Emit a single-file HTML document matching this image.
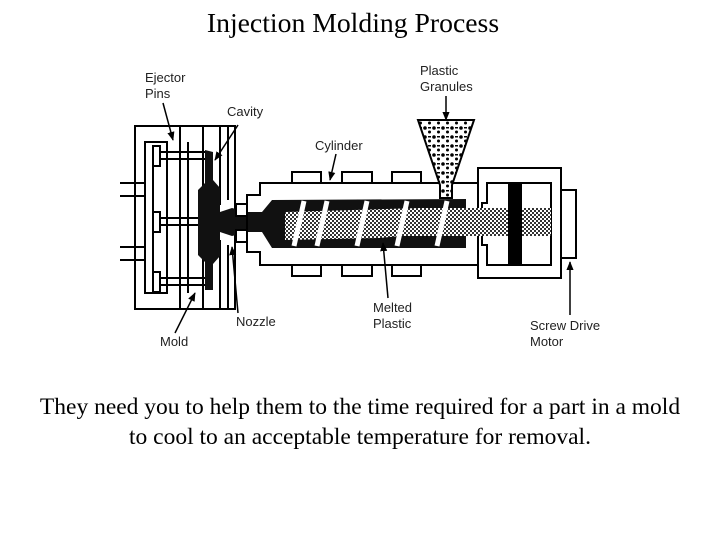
<!DOCTYPE html>
<html><head><style>
body{margin:0;background:#fff;width:720px;height:540px;overflow:hidden;position:relative}
.t{position:absolute;font-family:"Liberation Serif",serif;color:#000;text-align:center;width:720px}
</style></head><body>
<div class="t" style="top:7px;left:-7px;font-size:27.7px">Injection Molding Process</div>
<div class="t" style="top:392px;left:0;font-size:23.5px;line-height:30px">They need you to help them to the time required for a part in a mold<br>to cool to an acceptable temperature for removal.</div>
<svg width="720" height="540" style="position:absolute;left:0;top:0" xmlns="http://www.w3.org/2000/svg">
<defs>
<pattern id="d" width="4" height="4" patternUnits="userSpaceOnUse"><rect width="4" height="4" fill="#fff"/><rect width="2" height="2" fill="#333"/><rect x="2" y="2" width="2" height="2" fill="#333"/></pattern>
<pattern id="g" width="9" height="9" patternUnits="userSpaceOnUse"><rect width="9" height="9" fill="#fff"/><circle cx="2" cy="2" r="1.8" fill="#000"/><circle cx="6.5" cy="6" r="1.5" fill="#000"/><rect x="5" y="1" width="3" height="1.5" fill="#000"/></pattern>
<marker id="a" viewBox="0 0 10 10" refX="9" refY="5" markerWidth="6" markerHeight="6" orient="auto"><path d="M0 1L10 5L0 9Z" fill="#000"/></marker>
</defs>
<g stroke="#000" stroke-width="2" fill="none">
<rect x="135" y="126" width="100" height="183"/>
<path d="M168 142H145V293H168"/>
<line x1="153" y1="148" x2="153" y2="287"/>
<line x1="167" y1="142" x2="167" y2="293"/>
<line x1="180" y1="126" x2="180" y2="309"/>
<line x1="188" y1="142" x2="188" y2="293"/>
<line x1="203" y1="126" x2="203" y2="309"/>
<line x1="220" y1="126" x2="220" y2="205"/>
<line x1="220" y1="240" x2="220" y2="309"/>
<line x1="228" y1="126" x2="228" y2="200"/>
<line x1="228" y1="245" x2="228" y2="309"/>
<path d="M120 183H145M120 196H145M120 247H145M120 260H145"/>
<rect x="153" y="146" width="7" height="20" fill="#fff"/>
<rect x="153" y="212" width="7" height="20" fill="#fff"/>
<rect x="153" y="272" width="7" height="20" fill="#fff"/>
<path d="M160 152H205M160 159H205M160 218H205M160 225H205M160 278H205M160 285H205" />
</g>
<path d="M205 150L213 152L213 180L220 188L220 212L232 208L247 212L247 232L232 236L220 232L220 256L213 264L213 290L205 290L205 262L198 255L198 190L205 183Z" fill="#111"/>
<path d="M220 212L262 212L272 200L466 199L466 248L272 248L262 232L220 232Z" fill="#111"/>
<g stroke="#000" stroke-width="2" fill="none">
<rect x="236" y="204" width="11" height="12" fill="#fff"/>
<rect x="236" y="230" width="11" height="12" fill="#fff"/>
<path d="M440 183H260V195H247V252H260V265H478V183H452"/>
<rect x="292" y="172" width="29" height="11"/><rect x="342" y="172" width="30" height="11"/><rect x="392" y="172" width="29" height="11"/>
<rect x="292" y="265" width="29" height="11"/><rect x="342" y="265" width="30" height="11"/><rect x="392" y="265" width="29" height="11"/>
<rect x="478" y="168" width="83" height="110"/>
<path d="M487 183H551V265H487V245H482V203H487Z"/>
<rect x="561" y="190" width="15" height="68"/>
</g>
<path d="M285 212L420 208L466 208L466 236L400 236L380 238L285 240Z" fill="url(#d)"/>
<rect x="466" y="208" width="85" height="28" fill="url(#d)"/>
<rect x="508" y="183" width="14" height="82" fill="#000"/>
<g stroke="#fff" stroke-width="5">
<line x1="294" y1="246" x2="304" y2="201"/><line x1="317" y1="246" x2="327" y2="201"/>
<line x1="357" y1="246" x2="367" y2="201"/><line x1="397" y1="246" x2="407" y2="201"/>
<line x1="437" y1="246" x2="447" y2="201"/>
</g>
<path d="M418 120H474L452 185V198H440V185Z" fill="url(#g)" stroke="#000" stroke-width="2"/>
<g stroke="#000" stroke-width="1.5" fill="none" marker-end="url(#a)">
<path d="M163 103L173 140"/><path d="M238 125L215 160"/><path d="M336 154L330 180"/>
<path d="M446 96V120"/><path d="M238 313L232 247"/><path d="M175 333L195 293"/>
<path d="M388 298L383 243"/><path d="M570 315V262"/>
</g>
</svg>
<div style="position:absolute;font-family:'Liberation Sans',sans-serif;font-size:13px;line-height:16px;color:#222">
<div style="position:absolute;left:145px;top:70px;white-space:nowrap">Ejector<br>Pins</div>
<div style="position:absolute;left:227px;top:104px">Cavity</div>
<div style="position:absolute;left:315px;top:138px">Cylinder</div>
<div style="position:absolute;left:420px;top:63px;white-space:nowrap">Plastic<br>Granules</div>
<div style="position:absolute;left:236px;top:314px">Nozzle</div>
<div style="position:absolute;left:160px;top:334px">Mold</div>
<div style="position:absolute;left:373px;top:300px;white-space:nowrap">Melted<br>Plastic</div>
<div style="position:absolute;left:530px;top:318px;white-space:nowrap">Screw Drive<br>Motor</div>
</div>
</body></html>
